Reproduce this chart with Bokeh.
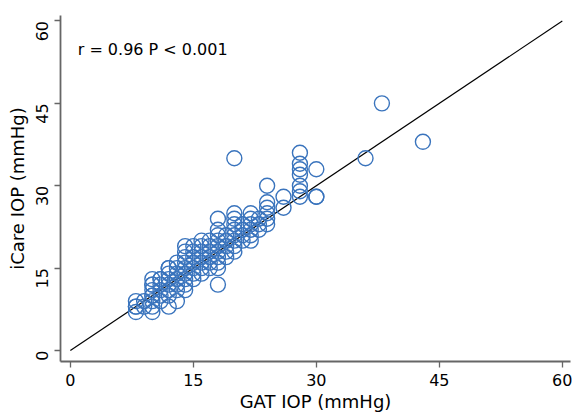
import math
from bokeh.plotting import figure
from bokeh.models import Label, Range1d, FixedTicker
from bokeh.embed import file_html
from bokeh.resources import INLINE

# GAT IOP (x) and iCare IOP (y), mmHg
gat = [8, 8, 8, 8,
       9, 9,
       10, 10, 10, 10, 10, 10, 10, 10, 10,
       11, 11, 11, 11, 11, 11,
       12, 12, 12, 12, 12, 12, 12, 12,
       13, 13, 13, 13, 13, 13, 13,
       14, 14, 14, 14, 14, 14, 14, 14, 14,
       15, 15, 15, 15, 15, 15, 15,
       16, 16, 16, 16, 16, 16, 16,
       17, 17, 17, 17, 17, 17,
       18, 18, 18, 18, 18, 18, 18, 18, 18, 18,
       19, 19, 19, 19, 19,
       20, 20, 20, 20, 20, 20, 20, 20, 20,
       21, 21, 21, 21,
       22, 22, 22, 22, 22, 22,
       23, 23, 23,
       24, 24, 24, 24, 24, 24,
       26, 26,
       28, 28, 28, 28, 28, 28, 28,
       30, 30, 30,
       36, 38, 43]
icare = [7, 8, 8, 9,
         8, 9,
         7, 8, 9, 10, 10, 11, 12, 12, 13,
         9, 10, 11, 12, 13, 13,
         8, 10, 11, 12, 13, 14, 15, 15,
         9, 11, 12, 13, 14, 15, 16,
         11, 12, 13, 14, 15, 16, 17, 18, 19,
         13, 14, 15, 16, 17, 18, 19,
         14, 15, 16, 17, 18, 19, 20,
         15, 16, 17, 18, 19, 20,
         12, 15, 16, 17, 18, 19, 20, 21, 22, 24,
         17, 18, 19, 20, 21,
         18, 19, 20, 21, 22, 23, 24, 25, 35,
         20, 21, 22, 23,
         20, 21, 22, 23, 24, 25,
         22, 23, 24,
         23, 24, 25, 26, 27, 30,
         26, 28,
         28, 29, 30, 32, 33, 34, 36,
         28, 28, 33,
         35, 45, 38]

# line of equality
ref_x = [0, 60]
ref_y = [0, 60]

ticks = [0, 15, 30, 45, 60]
x_label = "GAT IOP (mmHg)"
y_label = "iCare IOP (mmHg)"
note = "r = 0.96 P < 0.001"

FONT = "DejaVu Sans"
BLUE = "#3a74bd"
AX = "#666666"

p = figure(frame_width=510, frame_height=346, output_backend="svg",
           toolbar_location=None, min_border_left=60, min_border_right=3,
           min_border_top=15, min_border_bottom=54,
           x_range=Range1d(-1.2, 61), y_range=Range1d(-2, 61))
p.outline_line_color = None
p.xgrid.visible = False
p.ygrid.visible = False
p.background_fill_color = "white"
p.border_fill_color = "white"

p.line(ref_x, ref_y, line_color="black", line_width=1.2)
p.scatter(gat, icare, size=15, marker="circle", fill_color=None,
          line_color=BLUE, line_width=1.4)

for ax in (p.xaxis[0], p.yaxis[0]):
    ax.ticker = FixedTicker(ticks=ticks)
    ax.minor_tick_line_color = None
    ax.axis_line_color = AX
    ax.axis_line_width = 1.8
    ax.major_tick_line_color = AX
    ax.major_tick_line_width = 1.3
    ax.major_tick_out = 6
    ax.major_tick_in = 0
    ax.major_label_text_font = FONT
    ax.major_label_text_font_size = "16px"
    ax.major_label_text_color = "black"
    ax.axis_label_text_font = FONT
    ax.axis_label_text_font_size = "18px"
    ax.axis_label_text_font_style = "normal"
    ax.axis_label_text_color = "black"

p.xaxis.axis_label = x_label
p.yaxis.axis_label = y_label
p.yaxis.major_label_orientation = math.pi / 2
p.xaxis.axis_label_standoff = 2
p.yaxis.axis_label_standoff = 0
p.xaxis.major_label_standoff = 6
p.yaxis.major_label_standoff = 12

p.add_layout(Label(x=0.9, y=54.9, text=note, text_font=FONT,
                   text_font_size="16px", text_color="black",
                   text_baseline="middle"))

open("out.html", "w").write(file_html(p, INLINE))
